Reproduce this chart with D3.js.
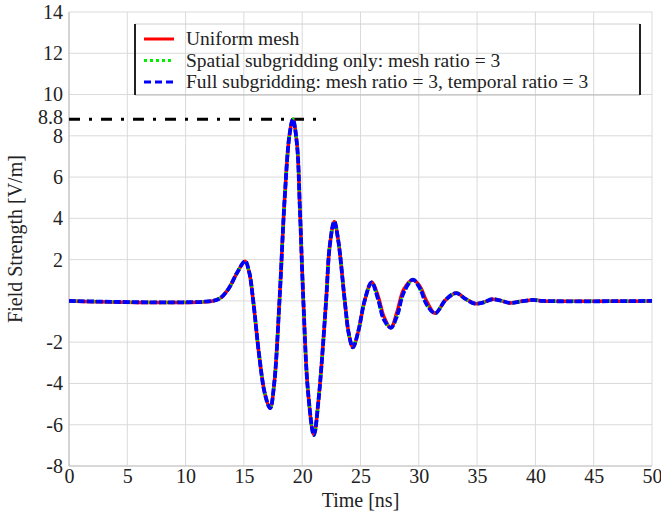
<!DOCTYPE html>
<html>
<head>
<meta charset="utf-8">
<script src="https://cdn.jsdelivr.net/npm/d3@7"></script>
<style>
  body { margin: 0; background: #fff; }
  text { font-family: "Liberation Serif", "Times New Roman", serif; fill: #222; }
</style>
</head>
<body>
<svg id="chart" width="661" height="517"></svg>
<script>
// Time samples [ns]
let timeNs = [0, 12.3, 13.0, 13.7, 14.4, 15.1, 15.45, 15.8, 16.3, 16.8, 17.25, 17.6, 18.05, 18.5, 18.9, 19.2,
  19.55, 19.8, 20.1, 20.5, 21.0, 21.4, 22.05, 22.35, 22.75, 23.1, 23.65, 24.0, 24.35, 24.8, 25.35, 25.95,
  26.5, 27.0, 27.6, 28.15, 28.7, 29.5, 30.1, 30.7, 31.4, 32.3, 33.2, 34.0, 34.8, 35.5, 36.3, 37.0, 37.8,
  38.8, 39.8, 40.6, 50];

// Field strength [V/m] for each run
let uniformMesh = [0, 0, 0.15, 0.6, 1.35, 1.92, 1.4, 0, -2.6, -4.5, -5.2, -4.0, 0, 5.0, 8.0, 8.8,
  7.6, 4.5, 0, -4.4, -6.5, -4.8, 0, 2.6, 3.85, 2.9, 0, -1.6, -2.25, -1.5, 0, 0.9,
  0.25, -0.75, -1.3, -0.5, 0.55, 1.03, 0.7, -0.05, -0.6, 0.05, 0.38, 0.1, -0.13, -0.08, 0.08, 0.02, -0.1,
  -0.02, 0.05, 0, 0];
let spatialSub = [0, 0, 0.15, 0.6, 1.35, 1.92, 1.4, 0, -2.6, -4.5, -5.2, -4.0, 0, 5.0, 8.0, 8.8,
  7.6, 4.5, 0, -4.4, -6.5, -4.8, 0, 2.6, 3.85, 2.9, 0, -1.6, -2.25, -1.5, 0, 0.9,
  0.1, -0.9, -1.3, -0.7, 0.4, 1.03, 0.6, -0.2, -0.6, 0.05, 0.38, 0.1, -0.13, -0.08, 0.08, 0.02, -0.1,
  -0.02, 0.05, 0, 0];
let fullSub = [0, 0, 0.15, 0.6, 1.35, 1.92, 1.4, 0, -2.6, -4.5, -5.2, -4.0, 0, 5.0, 8.0, 8.8,
  7.6, 4.5, 0, -4.4, -6.5, -4.8, 0, 2.6, 3.85, 2.9, 0, -1.6, -2.25, -1.5, 0, 0.9,
  0.1, -0.9, -1.3, -0.7, 0.4, 1.03, 0.6, -0.2, -0.6, 0.05, 0.38, 0.1, -0.13, -0.08, 0.08, 0.02, -0.1,
  -0.02, 0.05, 0, 0];

let seriesNames = ["Uniform mesh",
  "Spatial subgridding only: mesh ratio = 3",
  "Full subgridding: mesh ratio = 3, temporal ratio = 3"];

let xTicks = [0, 5, 10, 15, 20, 25, 30, 35, 40, 45, 50];
let yGrid = [-8, -6, -4, -2, 0, 2, 4, 6, 8, 10, 12, 14];
let yTickLabels = [-8, -6, -4, -2, 2, 4, 6, 8, 8.8, 10, 12, 14];
let peakLevel = 8.8;
let peakLineEnd = 21.4;

// Plot box in pixels
let margin = { top: 12, left: 69, right: 9, bottom: 51 },
  width = 661 - margin.left - margin.right,
  height = 517 - margin.top - margin.bottom;

let svg = d3.select("#chart");
let g = svg.append("g")
  .attr("transform", "translate(" + margin.left + "," + margin.top + ")");

let x = d3.scaleLinear().domain([0, 50]).range([0, width]);
let y = d3.scaleLinear().domain([-8, 14]).range([height, 0]);

// grid lines
g.append("g").selectAll("line")
  .data(xTicks)
  .enter().append("line")
  .attr("x1", d => x(d)).attr("x2", d => x(d))
  .attr("y1", 0).attr("y2", height)
  .attr("stroke", "#dadada").attr("stroke-width", 1);

g.append("g").selectAll("line")
  .data(yGrid)
  .enter().append("line")
  .attr("x1", 0).attr("x2", width)
  .attr("y1", d => y(d)).attr("y2", d => y(d))
  .attr("stroke", "#dadada").attr("stroke-width", 1);

// axis lines
g.append("line").attr("x1", 0).attr("x2", 0).attr("y1", 0).attr("y2", height)
  .attr("stroke", "#c4c4c4").attr("stroke-width", 1.2);
g.append("line").attr("x1", 0).attr("x2", width).attr("y1", height).attr("y2", height)
  .attr("stroke", "#c4c4c4").attr("stroke-width", 1.2);

// x axis labels
let xAxis = d3.axisBottom(x).tickValues(xTicks).tickSize(0).tickPadding(3)
  .tickFormat(d => String(d));
let xg = g.append("g").attr("transform", "translate(0," + height + ")").call(xAxis);
xg.attr("font-family", null);
xg.select(".domain").remove();
xg.selectAll("text").style("font-size", "20px").style("font-family", "'Liberation Serif', serif").attr("fill", "#222");

// y axis labels (plain hyphen for negatives, like the original)
let yAxis = d3.axisLeft(y).tickValues(yTickLabels).tickSize(0).tickPadding(6)
  .tickFormat(d => String(d));
let yg = g.append("g").call(yAxis);
yg.attr("font-family", null);
yg.select(".domain").remove();
yg.selectAll("text").style("font-size", "20px").style("font-family", "'Liberation Serif', serif").attr("fill", "#222");
// nudge the 8.8 label up a little so it sits above the 8
yg.selectAll(".tick").filter(d => d === 8.8).select("text").attr("dy", "0.2em");

// axis titles
svg.append("text")
  .attr("x", margin.left + width / 2)
  .attr("y", 507)
  .attr("text-anchor", "middle")
  .style("font-size", "20px")
  .text("Time [ns]");

svg.append("text")
  .attr("transform", "translate(22," + (margin.top + height / 2) + ") rotate(-90)")
  .attr("text-anchor", "middle")
  .style("font-size", "20px")
  .text("Field Strength [V/m]");

// dash-dot level at the peak
g.append("line")
  .attr("x1", x(0)).attr("x2", x(peakLineEnd))
  .attr("y1", y(peakLevel)).attr("y2", y(peakLevel))
  .attr("stroke", "#000").attr("stroke-width", 3)
  .attr("stroke-dasharray", "11,9,3,9");

// curves
let line = d3.line()
  .x((d, i) => x(timeNs[i]))
  .y(d => y(d))
  .curve(d3.curveCatmullRom.alpha(0.5));

let styles = [
  { color: "#ff0000", dash: null, w: 3.5 },
  { color: "#00ee00", dash: "2,4", w: 3.5 },
  { color: "#0000ff", dash: "7,2", w: 3.8 }
];
let allSeries = [uniformMesh, spatialSub, fullSub];

allSeries.forEach(function(vals, k) {
  g.append("path")
    .datum(vals)
    .attr("d", line)
    .attr("fill", "none")
    .attr("stroke", styles[k].color)
    .attr("stroke-width", styles[k].w)
    .attr("stroke-dasharray", styles[k].dash);
});

// legend
let leg = svg.append("g").attr("transform", "translate(135,24)");
leg.append("line").attr("x1", 0).attr("x2", 505).attr("y1", 0).attr("y2", 0)
  .attr("stroke", "#d0d0d0");
leg.append("line").attr("x1", 0).attr("x2", 505).attr("y1", 71).attr("y2", 71)
  .attr("stroke", "#b8b8b8");
leg.append("line").attr("x1", 0).attr("x2", 0).attr("y1", 0).attr("y2", 71)
  .attr("stroke", "#222").attr("stroke-width", 2);
leg.append("line").attr("x1", 505).attr("x2", 505).attr("y1", 0).attr("y2", 71)
  .attr("stroke", "#222").attr("stroke-width", 2);

seriesNames.forEach(function(name, k) {
  let yy = 15 + k * 21.5;
  leg.append("line")
    .attr("x1", 9).attr("x2", 39)
    .attr("y1", yy).attr("y2", yy)
    .attr("stroke", styles[k].color)
    .attr("stroke-width", 3)
    .attr("stroke-dasharray", k === 1 ? "3,3" : (k === 2 ? "7,4" : null));
  leg.append("text")
    .attr("x", 51)
    .attr("y", yy + 6)
    .style("font-size", "19.5px")
    .text(name);
});
</script>
</body>
</html>
